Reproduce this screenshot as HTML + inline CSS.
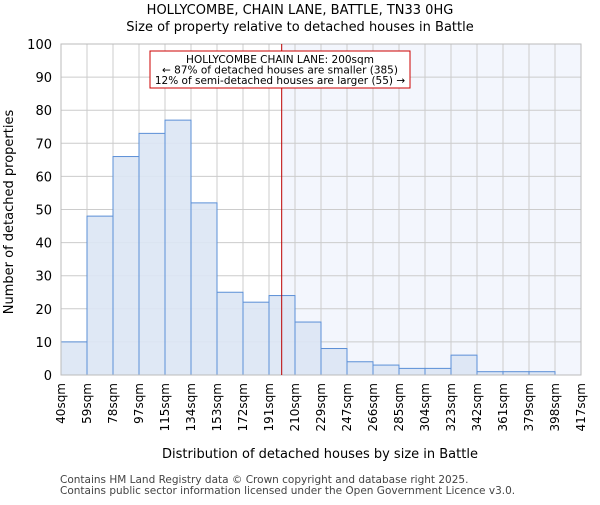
<!DOCTYPE html>
<html><head><meta charset="utf-8"><style>
body{margin:0;background:#fff;font-family:"Liberation Sans","DejaVu Sans",sans-serif}
svg text{font-family:"DejaVu Sans","Liberation Sans",sans-serif}
</style></head><body>
<svg id="chart" width="600" height="500" viewBox="0 0 600 500" xmlns="http://www.w3.org/2000/svg">
<text x="300" y="14" text-anchor="middle" font-size="13">HOLLYCOMBE, CHAIN LANE, BATTLE, TN33 0HG</text>
<text x="300" y="31" text-anchor="middle" font-size="13">Size of property relative to detached houses in Battle</text>
<g id="plot"></g>
<text x="320" y="458" text-anchor="middle" font-size="13">Distribution of detached houses by size in Battle</text>
<text transform="translate(13,212) rotate(-90)" text-anchor="middle" font-size="13">Number of detached properties</text>
<text x="60" y="483" font-size="10.5" fill="#444">Contains HM Land Registry data © Crown copyright and database right 2025.</text>
<text x="60" y="494" font-size="10.5" fill="#444">Contains public sector information licensed under the Open Government Licence v3.0.</text>
</svg>
<script>
const categories=["40sqm","59sqm","78sqm","97sqm","115sqm","134sqm","153sqm","172sqm","191sqm","210sqm","229sqm","247sqm","266sqm","285sqm","304sqm","323sqm","342sqm","361sqm","379sqm","398sqm","417sqm"];
const counts=[10,48,66,73,77,52,25,22,24,16,8,4,3,2,2,6,1,1,1,0];
const yTicks=[0,10,20,30,40,50,60,70,80,90,100];
const markerValue=200;
const binStart=40, binWidth=18.85;
const X0=61,X1=581,Y0=375,Y1=44;
const nb=counts.length;
const bw=(X1-X0)/nb;
const xi=i=>X0+i*bw;
const xv=v=>X0+(v-binStart)/binWidth*bw;
const y=v=>Y0-(v/100)*(Y0-Y1);
const g=document.getElementById('plot');
const NS="http://www.w3.org/2000/svg";
function mk(t,a){const e=document.createElementNS(NS,t);for(const k in a)e.setAttribute(k,a[k]);g.appendChild(e);return e;}
const mx=xv(markerValue);
let e=mk('rect',{x:mx,y:Y1,width:X1-mx,height:Y0-Y1,fill:'#f3f6fd'});


for(let i=0;i<=nb;i++){e=mk('line',{x1:xi(i),x2:xi(i),y1:Y1,y2:Y0,stroke:'#ccc','stroke-width':1});

}
yTicks.forEach(t=>{e=mk('line',{x1:X0,x2:X1,y1:y(t),y2:y(t),stroke:'#ccc','stroke-width':1});


const tx=mk('text',{x:X0-9,y:y(t)+5,'text-anchor':'end','font-size':13});tx.textContent=t;

});
counts.forEach((c,i)=>{if(c<=0)return;e=mk('rect',{x:xi(i),y:y(c),width:bw,height:Y0-y(c),fill:'#dbe5f4','fill-opacity':0.9,stroke:'#5b8fd6','stroke-width':1});

});
e=mk('rect',{x:X0,y:Y1,width:X1-X0,height:Y0-Y1,fill:'none',stroke:'#bbb','stroke-width':1});


categories.forEach((c,i)=>{const tx=mk('text',{transform:`translate(${xi(i)+4},${Y0+8}) rotate(-90)`,'text-anchor':'end','font-size':12});tx.textContent=c;

});
e=mk('line',{x1:mx,x2:mx,y1:Y1,y2:Y0,stroke:'#b00','stroke-width':1});


e=mk('rect',{x:150,y:51,width:260,height:37,fill:'#fff',stroke:'#c00','stroke-width':1});


["HOLLYCOMBE CHAIN LANE: 200sqm","← 87% of detached houses are smaller (385)","12% of semi-detached houses are larger (55) →"].forEach((s,k)=>{const tx=mk('text',{x:280,y:63+k*10.5,'text-anchor':'middle','font-size':10.5});tx.textContent=s;

});
</script>
</body></html>
